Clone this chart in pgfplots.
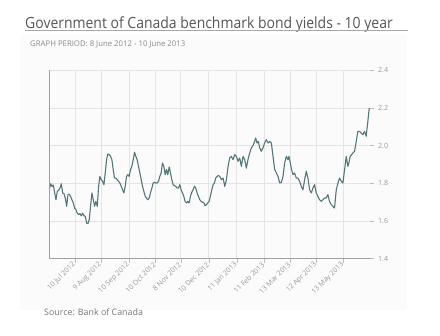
\documentclass[border=0pt]{standalone}
\usepackage{fontspec}
\setmainfont{Open Sans}
\newfontfamily\titlefont[FakeStretch=0.905]{Open Sans}
\usepackage{pgfplots}
\pgfplotsset{compat=1.18}
\definecolor{titlegrey}{HTML}{555555}
\definecolor{rulegrey}{HTML}{A8A8A8}
\definecolor{labelgrey}{HTML}{8A8A8A}
\definecolor{ticklabelgrey}{HTML}{9A9A9A}
\definecolor{gridgrey}{HTML}{E4E4E4}
\definecolor{axisgrey}{HTML}{A0A0A0}
\definecolor{yieldline}{HTML}{537778}
\definecolor{panelbg}{HTML}{FBFBFB}
\begin{document}
\begin{tikzpicture}[x=1bp,y=1bp]
\useasboundingbox (0,0) rectangle (440,335);
\fill[panelbg] (20,25) rectangle (407,300);
% title block
\node[anchor=base west, inner sep=0, text=titlegrey,
      font=\titlefont\fontsize{15.5}{18}\selectfont] at (25,306.7)
  {Government of Canada benchmark bond yields - 10 year};
\draw[rulegrey, line width=0.8bp] (25,304.3) -- (408,304.3);
\node[anchor=base west, inner sep=0, text=labelgrey,
      font=\fontsize{7.8}{9}\selectfont] at (30,288.3)
  {GRAPH PERIOD: 8 June 2012 - 10 June 2013};
% source line
\node[anchor=base west, inner sep=0, text=labelgrey!85!black,
      font=\fontsize{8.9}{10}\selectfont] at (44,20)
  {Source: Bank of Canada};
\begin{axis}[
  at={(49bp,76.3bp)}, anchor=south west,
  width=320.5bp, height=188.4bp, scale only axis,
  xmin=2.3, xmax=368.7, ymin=1.4, ymax=2.4,
  axis line style={draw=none},
  grid=major, grid style={gridgrey, line width=0.8bp},
  xtick={32,62,94,124,153,185,217,248,278,308,339},
  xticklabels={10 Jul 2012,9 Aug 2012,10 Sep 2012,10 Oct 2012,8 Nov 2012,10 Dec 2012,11 Jan 2013,11 Feb 2013,13 Mar 2013,12 Apr 2013,13 May 2013},
  ytick={1.4,1.6,1.8,2.0,2.2,2.4},
  yticklabels={1.4,1.6,1.8,2.0,2.2,2.4},
  xtick pos=lower, ytick pos=right, yticklabel pos=right,
  tick align=outside, major tick length=4bp,
  tick style={axisgrey!70, line width=0.6bp},
  xticklabel style={rotate=45, anchor=east, font=\fontsize{7.1}{8}\selectfont, text=ticklabelgrey, inner sep=1bp},
  yticklabel style={font=\fontsize{7.2}{8}\selectfont, text=ticklabelgrey, xshift=1bp},
  /pgf/number format/assume math mode=true,
  clip=false,
]
\addplot[yieldline, line width=1.1bp, line join=round] coordinates {
(2.7,1.766) (4.2,1.798) (5.7,1.784) (7.2,1.791) (8.8,1.749) (10.3,1.713)
(11.8,1.758) (13.3,1.763) (14.8,1.775) (16.4,1.798) (17.9,1.749) (19.4,1.745)
(20.9,1.722) (22.5,1.678) (24.0,1.740) (25.5,1.742) (27.0,1.731) (28.5,1.713)
(30.1,1.696) (31.6,1.669) (33.1,1.660) (34.6,1.642) (36.1,1.634) (37.7,1.639)
(39.2,1.628) (40.7,1.642) (42.2,1.628) (43.8,1.625) (45.3,1.589) (46.8,1.586)
(48.3,1.607) (49.8,1.678) (51.4,1.749) (52.9,1.713) (54.4,1.678) (55.9,1.704)
(57.5,1.678) (59.0,1.784) (60.5,1.837) (62.0,1.819) (63.5,1.811) (65.1,1.793)
(66.6,1.855) (68.1,1.926) (69.6,1.956) (71.2,1.952) (72.7,1.943) (74.2,1.926)
(75.7,1.873) (77.2,1.828) (78.8,1.828) (80.3,1.819) (81.8,1.811) (83.3,1.802)
(84.9,1.784) (86.4,1.766) (87.9,1.749) (89.4,1.784) (90.9,1.837) (92.5,1.846)
(94.0,1.837) (95.5,1.873) (97.0,1.890) (98.6,1.926) (100.1,1.965) (101.6,1.943)
(103.1,1.926) (104.6,1.890) (106.2,1.855) (107.7,1.819) (109.2,1.784) (110.7,1.758)
(112.3,1.731) (113.8,1.722) (115.3,1.713) (116.8,1.722) (118.3,1.749) (119.9,1.775)
(121.4,1.802) (122.9,1.805) (124.4,1.802) (126.0,1.802) (127.5,1.811) (129.0,1.837)
(130.5,1.855) (132.0,1.908) (133.6,1.890) (135.1,1.846) (136.6,1.873) (138.1,1.846)
(139.7,1.887) (141.2,1.855) (142.7,1.819) (144.2,1.793) (145.7,1.788) (147.3,1.784)
(148.8,1.775) (150.3,1.775) (151.8,1.793) (153.3,1.766) (154.9,1.749) (156.4,1.731)
(157.9,1.704) (159.4,1.696) (161.0,1.704) (162.5,1.696) (164.0,1.731) (165.5,1.752)
(167.0,1.766) (168.6,1.784) (170.1,1.775) (171.6,1.749) (173.1,1.731) (174.7,1.713)
(176.2,1.704) (177.7,1.699) (179.2,1.699) (180.7,1.681) (182.3,1.687) (183.8,1.696)
(185.3,1.704) (186.8,1.731) (188.4,1.766) (189.9,1.793) (191.4,1.802) (192.9,1.828)
(194.4,1.837) (196.0,1.841) (197.5,1.837) (199.4,1.819) (201.3,1.828) (203.2,1.784)
(205.1,1.819) (207.0,1.890) (208.9,1.935) (210.8,1.943) (212.7,1.926) (214.6,1.952)
(216.5,1.943) (218.4,1.917) (220.3,1.935) (222.2,1.890) (224.1,1.943) (226.0,1.926)
(227.9,1.881) (229.8,1.926) (231.7,1.961) (233.6,1.988) (235.5,2.000) (237.4,2.023)
(238.6,2.041) (240.1,2.014) (241.6,2.023) (243.1,1.988) (245.0,1.970) (246.9,1.988)
(248.8,2.014) (250.7,2.032) (252.7,2.014) (254.6,2.023) (256.5,2.014) (258.4,1.943)
(260.3,1.873) (262.2,1.855) (264.1,1.837) (266.0,1.802) (267.9,1.805) (269.8,1.837)
(271.7,1.908) (273.6,1.943) (275.5,1.926) (276.6,1.943) (278.1,1.908) (279.6,1.873)
(281.2,1.846) (283.1,1.855) (285.0,1.828) (286.9,1.828) (288.8,1.811) (290.7,1.784)
(292.6,1.766) (294.5,1.819) (296.4,1.864) (298.3,1.828) (300.2,1.766) (302.1,1.749)
(304.0,1.775) (305.9,1.793) (307.8,1.749) (309.7,1.731) (311.6,1.713) (313.5,1.704)
(315.4,1.713) (317.3,1.722) (319.2,1.722) (321.1,1.740) (323.0,1.704) (324.9,1.687)
(326.8,1.678) (328.7,1.669) (330.7,1.766) (332.6,1.802) (334.5,1.828) (336.4,1.811)
(338.3,1.802) (340.2,1.873) (342.1,1.943) (344.0,1.890) (345.1,1.908) (346.6,1.943)
(348.1,1.952) (349.7,1.961) (351.6,1.970) (353.5,2.023) (355.4,2.076) (357.3,2.076)
(359.2,2.067) (361.1,2.058) (363.0,2.076) (364.9,2.050) (366.8,2.129) (368.4,2.200)
};
\draw[axisgrey, line width=0.8bp] (rel axis cs:0,1) -- (rel axis cs:0,0) -- (rel axis cs:1,0);
\end{axis}
\end{tikzpicture}
\end{document}
